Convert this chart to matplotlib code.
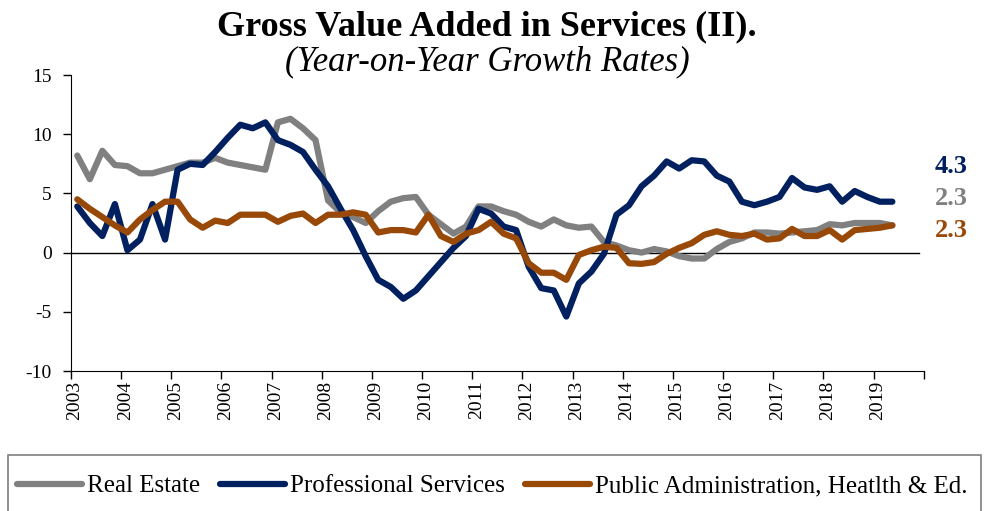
import numpy as np
import matplotlib
matplotlib.use("Agg")
import matplotlib.pyplot as plt
from matplotlib.patches import Rectangle

plt.rcParams['font.family'] = ['Liberation Serif', 'DejaVu Serif']
plt.rcParams['axes.unicode_minus'] = False

# quarterly data, 2003Q1 .. 2019Q2
real_estate = [8.2, 6.2, 8.6, 7.4, 7.3, 6.7, 6.7, 7.0, 7.3, 7.6, 7.6, 8.0,
               7.6, 7.4, 7.2, 7.0, 11.0, 11.3, 10.5, 9.5, 4.4, 3.4, 3.0, 2.5,
               3.5, 4.3, 4.6, 4.7, 3.2, 2.4, 1.6, 2.2, 3.9, 3.9, 3.5, 3.2,
               2.6, 2.2, 2.8, 2.3, 2.1, 2.2, 0.9, 0.6, 0.2, 0.0, 0.3, 0.1,
               -0.3, -0.5, -0.5, 0.3, 0.9, 1.2, 1.7, 1.7, 1.6, 1.7, 1.8, 1.9,
               2.4, 2.3, 2.5, 2.5, 2.5, 2.3]
professional = [3.9, 2.5, 1.4, 4.1, 0.2, 1.1, 4.1, 1.1, 7.0, 7.5, 7.4, 8.5,
                9.7, 10.8, 10.5, 11.0, 9.5, 9.1, 8.5, 7.0, 5.6, 3.7, 1.9, -0.3,
                -2.3, -2.9, -3.9, -3.2, -2.0, -0.8, 0.4, 1.4, 3.7, 3.3, 2.2, 1.9,
                -1.2, -3.0, -3.2, -5.4, -2.6, -1.6, -0.1, 3.2, 4.0, 5.6, 6.5, 7.7,
                7.1, 7.8, 7.7, 6.5, 6.0, 4.3, 4.0, 4.3, 4.7, 6.3, 5.5, 5.3,
                5.6, 4.3, 5.2, 4.7, 4.3, 4.3]
public_adm = [4.5, 3.7, 3.0, 2.3, 1.7, 2.8, 3.6, 4.3, 4.3, 2.8, 2.1, 2.7,
              2.5, 3.2, 3.2, 3.2, 2.6, 3.1, 3.3, 2.5, 3.2, 3.2, 3.4, 3.2,
              1.7, 1.9, 1.9, 1.7, 3.2, 1.4, 0.9, 1.6, 1.9, 2.6, 1.6, 1.2,
              -0.9, -1.7, -1.7, -2.3, -0.2, 0.2, 0.5, 0.4, -0.9, -0.95, -0.8, -0.1,
              0.4, 0.8, 1.5, 1.8, 1.5, 1.4, 1.6, 1.1, 1.2, 2.0, 1.4, 1.4,
              1.9, 1.1, 1.9, 2.0, 2.1, 2.3]
last_labels = ["4.3", "2.3", "2.3"]
years = list(range(2003, 2020))

c_gray = '#808080'
c_navy = '#002060'
c_orange = '#984807'

t = 2003 + (np.arange(len(real_estate)) + 0.5) / 4

fig = plt.figure(figsize=(9.84, 5.11), dpi=100)
ax = fig.add_axes([71 / 984, 1 - 371 / 511, 852.7 / 984, 296 / 511])

lw = 4.5
ax.plot(t, real_estate, color=c_gray, lw=lw, label='Real Estate', solid_capstyle='round')
ax.plot(t, professional, color=c_navy, lw=lw, label='Professional Services', solid_capstyle='round')
ax.plot(t, public_adm, color=c_orange, lw=lw, label='Public Administration, Heatlth & Ed.',
        solid_capstyle='round')
ax.axhline(0, color='black', lw=1, xmin=0, xmax=0.995, zorder=1)

ax.set_xlim(2003, 2020)
ax.set_ylim(-10, 15)
ax.set_yticks(range(-10, 16, 5))
ax.set_xticks(range(2003, 2021))
ax.set_xticklabels([])
ax.set_xticks([y + 0.08 for y in years], minor=True)
ax.set_xticklabels([str(y) for y in years], minor=True, rotation=90)
ax.tick_params(axis='x', which='major', direction='out', length=6, width=1)
ax.tick_params(axis='x', which='minor', length=0, labelsize=14, pad=7)
ax.tick_params(axis='y', direction='out', length=6, width=1, labelsize=14, pad=8)
for s in ['top', 'right']:
    ax.spines[s].set_visible(False)

# end-of-series labels
for txt, yv, col in zip(last_labels, [7.3, 4.6, 1.9], [c_navy, c_gray, c_orange]):
    ax.text(2020.22, yv, txt, color=col, fontsize=19, fontweight='bold',
            ha='left', va='center', clip_on=False)

fig.text(0.495, 0.947, 'Gross Value Added in Services (II).', ha='center', va='center',
         fontsize=26, fontweight='bold')
fig.text(0.495, 0.880, '(Year-on-Year Growth Rates)', ha='center', va='center',
         fontsize=25, fontstyle='italic')

# legend box
fig.patches.append(Rectangle((8 / 984, -0.05), 973 / 984, (511 - 455) / 511 + 0.05,
                             transform=fig.transFigure, fill=False,
                             edgecolor='#7f7f7f', lw=1.2))
fig.legend(loc='center', ncol=3, bbox_to_anchor=(0.5, 1 - 486 / 511),
           fontsize=18, frameon=False, handlelength=2.6, columnspacing=0.8,
           handletextpad=0.2)

fig.savefig('out.png', dpi=100)
